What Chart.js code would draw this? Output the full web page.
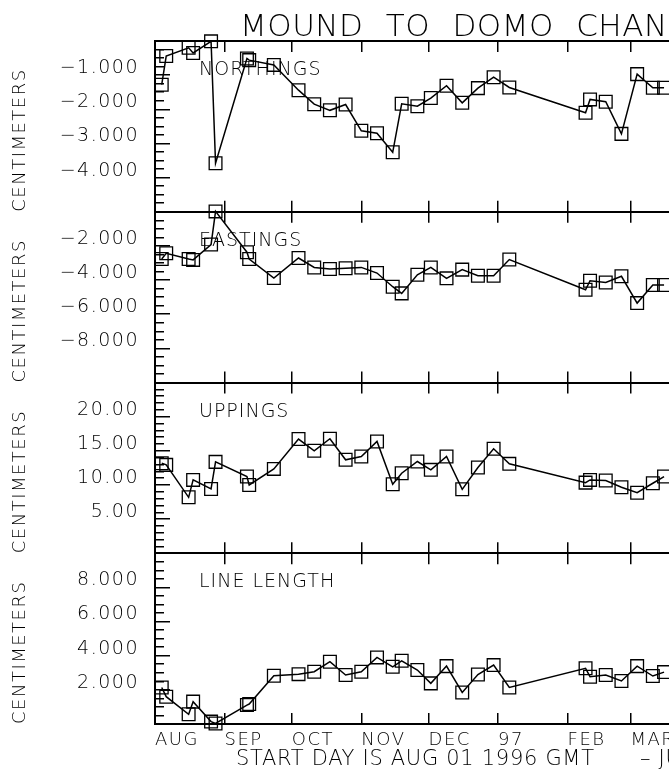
<!DOCTYPE html>
<html><head><meta charset="utf-8">
<script src="https://cdn.jsdelivr.net/npm/chart.js@4.4.1/dist/chart.umd.min.js"></script>
<style>
html,body{margin:0;padding:0;background:#fff;overflow:hidden;width:669px;height:769px;}
#wrap{position:relative;width:920px;height:769px;}
canvas{display:block;}
</style></head><body>
<div id="wrap"><canvas id="c" width="920" height="769"></canvas></div>
<script>
// ---- data (day number since AUG 01 1996) ----
const days = [3,5,15,17,25,27,41,42,53,64,71,78,85,92,99,106,110,117,123,130,137,144,151,158,192,194,201,208,215,222,227];
const northings = [-1.28,-0.44,-0.20,-0.35,-0.01,-3.58,-0.51,-0.56,-0.70,-1.44,-1.85,-2.03,-1.86,-2.63,-2.70,-3.26,-1.84,-1.91,-1.67,-1.31,-1.81,-1.38,-1.06,-1.36,-2.10,-1.71,-1.78,-2.72,-0.97,-1.37,-1.37];
const eastings = [-2.77,-2.43,-2.77,-2.82,-1.92,0.02,-2.37,-2.77,-3.88,-2.71,-3.26,-3.35,-3.31,-3.26,-3.59,-4.39,-4.78,-3.69,-3.26,-3.90,-3.39,-3.75,-3.75,-2.80,-4.57,-4.04,-4.14,-3.78,-5.35,-4.29,-4.29];
const uppings = [13.19,12.94,8.19,10.74,9.41,13.38,11.23,10.00,12.35,16.72,15.00,16.76,13.68,14.17,16.37,10.10,11.72,13.43,12.21,14.17,9.36,12.55,15.29,13.09,10.34,10.74,10.64,9.66,8.87,10.25,11.23];
const lineLength = [2.14,1.60,0.57,1.31,0.14,0.03,1.11,1.17,2.83,2.92,3.06,3.65,2.87,3.06,3.90,3.35,3.70,3.16,2.38,3.39,1.85,2.90,3.45,2.14,3.26,2.77,2.87,2.52,3.39,2.81,3.04];

const monthDays = [0,31,61,92,122,153,184,212,243,273,304];
const monthLabels = ['AUG','SEP','OCT','NOV','DEC','97','FEB','MAR','APR','MAY','JUN'];
const panelNames = ['NORTHINGS','EASTINGS','UPPINGS','LINE LENGTH'];
const northTicks = [-1,-2,-3,-4];
const eastTicks = [-2,-4,-6,-8];
const upTicks = [20,15,10,5];
const lenTicks = [8,6,4,2];
const titleText = 'MOUND TO DOMO CHANGES';
const footText = 'START DAY IS AUG 01 1996 GMT';
const footText2 = '\u2013 JUL 01 1997 GMT';
const yTitle = 'CENTIMETERS';

const FAM = "'DejaVu Sans ExtraLight','DejaVu Sans',sans-serif";
const AXIS_W = 155;

function fmt(v, d){ return v.toFixed(d).replace('-', '\u2212'); }

function yAxis(min, max, step, majors, decimals){
  return {
    type:'linear', position:'left', stack:'panels', stackWeight:1, offset:false,
    min:min, max:max,
    afterBuildTicks(s){
      const t=[]; const n=Math.round((max-min)/step);
      for(let i=0;i<=n;i++) t.push({value: +(min+i*step).toFixed(4)});
      s.ticks=t;
    },
    afterFit(s){ s.width = AXIS_W; },
    ticks:{ autoSkip:false, padding:16, labelOffset:-7, color:'#000',
      font:{family:FAM, size:19, weight:'200'},
      callback:(v)=> majors.some(m=>Math.abs(m-v)<1e-6) ? fmt(v,decimals) : '' },
    grid:{ drawTicks:false, color:'#000',
      lineWidth:(c)=>{ if(!c.tick) return 1.5; const v=c.tick.value; return (Math.abs(v-max)<1e-6||Math.abs(v-min)<1e-6)?2:1.5; } },
    border:{ display:true, color:'#000', width:2,
      dash:(c)=>{ if(!c.tick) return []; const v=c.tick.value;
        if(Math.abs(v-max)<1e-6||Math.abs(v-min)<1e-6) return [];
        return majors.some(m=>Math.abs(m-v)<1e-6) ? [14,5000] : [8,5000]; } },
    title:{ display:true, text:yTitle, align:'start', color:'#000',
      font:{family:FAM, size:18, weight:'200'}, padding:{top:10,bottom:0} }
  };
}

function xDash(c){
  const a=c.chart.chartArea; if(!a) return [];
  const H=(a.bottom-a.top)/4, t=11;
  return [t,H-2*t,2*t,H-2*t,2*t,H-2*t,2*t,H-2*t,t];
}

const ds = (vals, axis) => ({
  data: days.map((d,i)=>({x:d, y:vals[i]})),
  yAxisID: axis, borderColor:'#000', borderWidth:1.5, tension:0,
  pointStyle:'rect', pointRadius:9, pointBorderWidth:1.3,
  pointBorderColor:'#000', pointBackgroundColor:'rgba(0,0,0,0)',
  backgroundColor:'rgba(0,0,0,0)', fill:false, clip:false
});

const spacingPlugin = {
  id:'spacing',
  beforeUpdate(chart){ chart.ctx.letterSpacing='1.5px'; },
  beforeLayout(chart){ chart.ctx.letterSpacing='1.5px'; },
  beforeDraw(chart){ chart.ctx.letterSpacing='1.5px'; }
};

const textPlugin = {
  id:'texts',
  afterDraw(chart){
    const {ctx, chartArea} = chart;
    ctx.save();
    ctx.fillStyle='#000'; ctx.textAlign='left'; ctx.textBaseline='alphabetic';
    ctx.font = "200 31px " + FAM;
    ctx.letterSpacing='0.5px'; ctx.wordSpacing='12px';
    ctx.fillText(titleText, 240, 36);
    ctx.wordSpacing='0px';
    ctx.font = "200 19px " + FAM;
    ctx.letterSpacing='1px';
    ['yNorth','yEast','yUp','yLen'].forEach((id,i)=>{
      const s=chart.scales[id];
      ctx.fillText(panelNames[i], chartArea.left+44, s.top+34);
    });
    ctx.font = "200 21px " + FAM;
    ctx.letterSpacing='0.7px';
    ctx.fillText(footText, 236, 765);
    ctx.fillText(footText2, 640, 765);
    ctx.restore();
  }
};

new Chart(document.getElementById('c'), {
  type:'line',
  data:{ datasets:[ ds(northings,'yNorth'), ds(eastings,'yEast'), ds(uppings,'yUp'), ds(lineLength,'yLen') ] },
  options:{
    responsive:false, animation:false, devicePixelRatio:1,
    layout:{ padding:{top:41, right:16, left:0, bottom:0} },
    plugins:{ legend:{display:false}, tooltip:{enabled:false}, title:{display:false} },
    scales:{
      x:{ type:'linear', position:'bottom', min:0, max:334,
        afterBuildTicks(s){ s.ticks = monthDays.map(v=>({value:v})); },
        afterFit(s){ s.height = 45; },
        ticks:{ autoSkip:false, align:'start', padding:6, maxRotation:0, minRotation:0, color:'#000',
          font:{family:FAM, size:18, weight:'200'},
          callback:(v)=> monthLabels[monthDays.indexOf(v)] },
        grid:{ drawTicks:false, color:'#000', lineWidth:1.5 },
        border:{ color:'#000', width:2, dash:xDash }
      },
      yLen: yAxis(0,10,0.5,lenTicks,3),
      yUp: yAxis(0,25,1,upTicks,2),
      yEast: yAxis(-10,0,0.5,eastTicks,3),
      yNorth: yAxis(-5,0,0.25,northTicks,3)
    }
  },
  plugins:[spacingPlugin, textPlugin]
});
</script>
</body></html>
